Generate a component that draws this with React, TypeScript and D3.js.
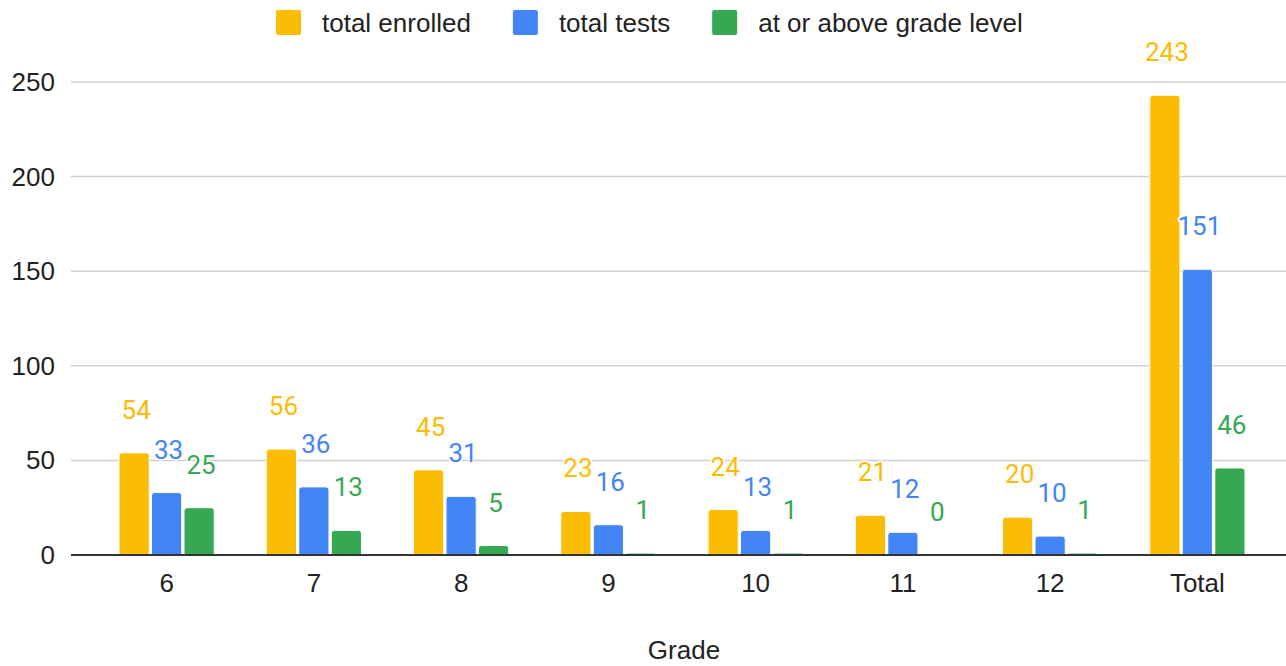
import React, {useEffect, useRef} from 'react';
import * as d3 from 'd3';

const grades = ['6', '7', '8', '9', '10', '11', '12', 'Total'];
const seriesNames = ['total enrolled', 'total tests', 'at or above grade level'];
const totalEnrolled = [54, 56, 45, 23, 24, 21, 20, 243];
const totalTests = [33, 36, 31, 16, 13, 12, 10, 151];
const atOrAbove = [25, 13, 5, 1, 1, 0, 1, 46];
const yTicks = [0, 50, 100, 150, 200, 250];
const colors = ['#fbbc04', '#4285f4', '#34a853'];

const W = 1286;
const H = 666;

export default function App() {
  const ref = useRef<SVGSVGElement>(null);

  useEffect(() => {
    const svg = d3.select(ref.current);
    svg.selectAll('*').remove();

    const font = '"Liberation Sans", Arial, sans-serif';
    const values = [totalEnrolled, totalTests, atOrAbove];

    const y = d3.scaleLinear().domain([0, 250]).range([555, 82]);
    const x = d3.scaleBand().domain(grades).range([93, 1271]).padding(0);
    const inner = d3.scaleBand<number>()
      .domain([0, 1, 2])
      .range([-47.6, 47.6])
      .paddingInner(0.07);

    // gridlines
    svg.append('g')
      .selectAll('line')
      .data(yTicks.filter(d => d > 0))
      .enter()
      .append('line')
      .attr('x1', 71).attr('x2', W)
      .attr('y1', d => y(d)).attr('y2', d => y(d))
      .attr('stroke', '#cfcfcf')
      .attr('stroke-width', 1.5);

    // y tick labels
    svg.append('g')
      .selectAll('text')
      .data(yTicks)
      .enter()
      .append('text')
      .attr('x', 55)
      .attr('y', d => y(d) + 9)
      .attr('text-anchor', 'end')
      .style('font-family', font)
      .style('font-size', '26px')
      .attr('fill', '#222')
      .text(d => d);

    // bars, rounded top corners
    const bw = inner.bandwidth();
    const r = 3;
    values.forEach((vals, s) => {
      const g = svg.append('g');
      g.selectAll('path')
        .data(vals)
        .enter()
        .append('path')
        .attr('d', (v, i) => {
          const x0 = (x(grades[i]) as number) + x.bandwidth() / 2 + (inner(s) as number);
          const y0 = y(v);
          const y1 = y(0);
          const h = y1 - y0;
          if (h <= 0) return '';
          const rr = Math.min(r, h);
          return `M${x0},${y1}V${y0 + rr}Q${x0},${y0} ${x0 + rr},${y0}H${x0 + bw - rr}Q${x0 + bw},${y0} ${x0 + bw},${y0 + rr}V${y1}Z`;
        })
        .attr('fill', colors[s])
        .attr('stroke', '#fff')
        .attr('stroke-width', 1);
    });

    // baseline
    svg.append('line')
      .attr('x1', 71).attr('x2', W)
      .attr('y1', y(0)).attr('y2', y(0))
      .attr('stroke', '#333')
      .attr('stroke-width', 2);

    // data labels
    values.forEach((vals, s) => {
      svg.append('g')
        .selectAll('text')
        .data(vals)
        .enter()
        .append('text')
        .attr('x', (v, i) => (x(grades[i]) as number) + x.bandwidth() / 2 + (inner(s) as number) + bw / 2 + 2)
        .attr('y', v => y(v) - 34)
        .attr('text-anchor', 'middle')
        .style('font-family', 'Roboto, sans-serif')
        .style('font-size', '26px')
        .style('paint-order', 'stroke')
        .attr('stroke', '#fff')
        .attr('stroke-width', 3)
        .attr('stroke-linejoin', 'round')
        .attr('fill', colors[s])
        .text(v => v);
    });

    // x tick labels
    svg.append('g')
      .selectAll('text')
      .data(grades)
      .enter()
      .append('text')
      .attr('x', d => (x(d) as number) + x.bandwidth() / 2)
      .attr('y', 592)
      .attr('text-anchor', 'middle')
      .style('font-family', font)
      .style('font-size', '26px')
      .attr('fill', '#222')
      .text(d => d);

    // axis title
    svg.append('text')
      .attr('x', 684)
      .attr('y', 659)
      .attr('text-anchor', 'middle')
      .style('font-family', font)
      .style('font-size', '26px')
      .attr('fill', '#222')
      .text('Grade');

    // legend
    const legend = svg.append('g');
    let cx = 0;
    seriesNames.forEach((name, s) => {
      const item = legend.append('g').attr('transform', `translate(${cx},0)`);
      item.append('rect')
        .attr('x', 0).attr('y', 10)
        .attr('width', 25).attr('height', 25)
        .attr('rx', 2)
        .attr('fill', colors[s]);
      const t = item.append('text')
        .attr('x', 46)
        .attr('y', 32)
        .style('font-family', font)
        .style('font-size', '26px')
        .attr('fill', '#222')
        .text(name);
      const tw = (t.node() as SVGTextElement).getComputedTextLength();
      cx += 46 + tw + 42;
    });
    legend.attr('transform', 'translate(276,0)');
  }, []);

  return (
    <svg
      ref={ref}
      width={W}
      height={H}
      style={{position: 'absolute', left: 0, top: 0, background: '#fff'}}
    />
  );
}
